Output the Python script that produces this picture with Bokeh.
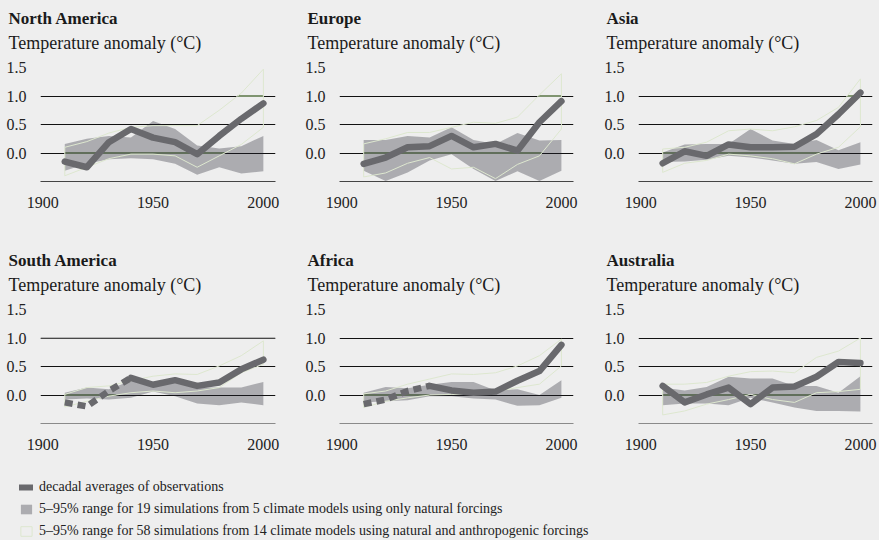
from bokeh.plotting import figure
from bokeh.layouts import column, row
from bokeh.models import (Range1d, FixedTicker, PrintfTickFormatter, Span,
                          Legend, LegendItem, Title)
from bokeh.embed import file_html
from bokeh.resources import INLINE

# Decade centres
years = [1910, 1920, 1930, 1940, 1950, 1960, 1970, 1980, 1990, 2000]

# North America
na_obs = [-0.15, -0.25, 0.19, 0.42, 0.27, 0.19, -0.02, 0.30, 0.60, 0.87]
na_nat_lo = [-0.31, -0.19, -0.11, -0.09, -0.11, -0.19, -0.38, -0.25, -0.36, -0.32]
na_nat_hi = [0.16, 0.25, 0.30, 0.27, 0.56, 0.42, 0.13, 0.08, 0.12, 0.30]
na_ant_lo = [-0.40, -0.25, -0.10, -0.02, -0.02, -0.05, -0.25, -0.05, 0.15, 0.45]
na_ant_hi = [0.10, 0.20, 0.35, 0.45, 0.48, 0.48, 0.48, 0.75, 1.05, 1.47]

# Europe
eu_obs = [-0.19, -0.08, 0.10, 0.12, 0.30, 0.10, 0.16, 0.04, 0.54, 0.91]
eu_nat_lo = [-0.31, -0.49, -0.34, -0.13, -0.02, -0.28, -0.49, -0.32, -0.49, -0.31]
eu_nat_hi = [0.23, 0.23, 0.30, 0.27, 0.45, 0.23, 0.16, 0.35, 0.22, 0.23]
eu_ant_lo = [-0.42, -0.35, -0.18, -0.08, -0.28, -0.25, -0.45, -0.20, -0.05, 0.42]
eu_ant_hi = [0.16, 0.25, 0.36, 0.36, 0.45, 0.54, 0.52, 0.63, 1.02, 1.39]

# Asia
as_obs = [-0.18, 0.03, -0.05, 0.15, 0.10, 0.10, 0.11, 0.33, 0.68, 1.06]
as_nat_lo = [-0.16, -0.15, -0.12, -0.05, -0.08, -0.13, -0.19, -0.16, -0.28, -0.20]
as_nat_hi = [0.01, 0.15, 0.16, 0.16, 0.42, 0.22, 0.16, 0.23, 0.05, 0.19]
as_ant_lo = [-0.34, -0.18, -0.13, -0.02, -0.05, -0.10, -0.19, -0.02, 0.10, 0.46]
as_ant_hi = [0.07, 0.10, 0.19, 0.39, 0.42, 0.39, 0.46, 0.57, 0.80, 1.30]

# South America
sa_obs = [-0.13, -0.20, 0.07, 0.30, 0.18, 0.26, 0.16, 0.22, 0.45, 0.62]
sa_nat_lo = [-0.08, -0.06, -0.08, -0.05, 0.06, -0.02, -0.15, -0.18, -0.13, -0.18]
sa_nat_hi = [0.04, 0.13, 0.10, 0.25, 0.19, 0.25, 0.13, 0.13, 0.13, 0.23]
sa_ant_lo = [-0.21, -0.11, -0.02, 0.04, 0.07, 0.04, 0.07, 0.13, 0.39, 0.54]
sa_ant_hi = [0.01, 0.13, 0.16, 0.25, 0.33, 0.37, 0.36, 0.51, 0.69, 0.95]

# Africa
af_obs = [-0.16, -0.08, 0.07, 0.16, 0.08, 0.04, 0.06, 0.25, 0.42, 0.88]
af_nat_lo = [-0.13, -0.11, -0.09, -0.02, -0.02, -0.06, -0.08, -0.19, -0.18, -0.05]
af_nat_hi = [0.04, 0.14, 0.12, 0.18, 0.23, 0.23, 0.08, 0.10, 0.00, 0.26]
af_ant_lo = [-0.22, -0.11, -0.05, 0.00, 0.01, 0.02, 0.06, 0.13, 0.19, 0.51]
af_ant_hi = [0.02, 0.07, 0.19, 0.28, 0.37, 0.36, 0.39, 0.51, 0.69, 0.98]

# Australia
au_obs = [0.16, -0.13, 0.01, 0.13, -0.16, 0.13, 0.15, 0.32, 0.58, 0.56]
au_nat_lo = [-0.18, -0.15, -0.15, -0.18, -0.05, -0.13, -0.22, -0.28, -0.28, -0.29]
au_nat_hi = [0.13, 0.08, 0.14, 0.32, 0.29, 0.29, 0.16, 0.16, 0.04, 0.33]
au_ant_lo = [-0.35, -0.28, -0.16, -0.08, 0.01, -0.08, -0.13, 0.04, 0.06, 0.10]
au_ant_hi = [0.19, 0.19, 0.22, 0.33, 0.41, 0.42, 0.39, 0.66, 0.77, 1.00]

# Sparse early record drawn dashed up to this decade (None = all solid)
sa_dashed_until = 1940
af_dashed_until = 1940

y_ticks = [0.0, 0.5, 1.0, 1.5]
x_ticks = [1900, 1950, 2000]
tinted_levels = [0.0, 1.0]

legend_labels = [
    "decadal averages of observations",
    "5–95% range for 19 simulations from 5 climate models using only natural forcings",
    "5–95% range for 58 simulations from 14 climate models using natural and anthropogenic forcings",
]

FONT = "Liberation Serif"
BG = "#eeeeee"
OBS_COLOR = "#69696d"
NAT_FILL = "#23232e"
NAT_ALPHA = 0.32
ANT_LINE = "#dde7cf"
ANT_ON_GRID = "#7f9470"


def covered_spans(xs, lo, hi, g):
    """x-intervals where lo <= g <= hi on the piecewise-linear band."""
    spans = []
    for i in range(len(xs) - 1):
        t0, t1 = 0.0, 1.0
        for a, b in ((lo[i] - g, lo[i + 1] - lo[i]),
                     (-(hi[i] - g), -(hi[i + 1] - hi[i]))):
            # need a + b*t <= 0
            if abs(b) < 1e-12:
                if a > 0:
                    t0, t1 = 1.0, 0.0
            else:
                r = -a / b
                if b > 0:
                    t1 = min(t1, r)
                else:
                    t0 = max(t0, r)
        if t1 > t0:
            x0 = xs[i] + t0 * (xs[i + 1] - xs[i])
            x1 = xs[i] + t1 * (xs[i + 1] - xs[i])
            if spans and abs(spans[-1][1] - x0) < 1e-9:
                spans[-1][1] = x1
            else:
                spans.append([x0, x1])
    return spans


def make_panel(name, obs, nat_lo, nat_hi, ant_lo, ant_hi, dashed_until,
               width, left, right, height, bottom, axis_color):
    p = figure(width=width, height=height, title=name,
               x_range=Range1d(1899, 2005.5), y_range=Range1d(-0.5, 1.5),
               output_backend="svg", toolbar_location=None,
               min_border_left=left, min_border_right=right,
               min_border_top=67, min_border_bottom=bottom,
               background_fill_color=BG, border_fill_color=BG,
               outline_line_color=None)

    p.title.text_font = FONT
    p.title.text_font_size = "17px"
    p.title.text_font_style = "bold"
    p.title.text_color = "#1a1a1a"
    p.title.align = "left"
    p.title.offset = -32
    p.title.standoff = 6

    # blank spacer between the frame and the subtitle
    p.add_layout(Title(text=" ", text_font_size="1px", standoff=12), "above")
    sub = Title(text="Temperature anomaly (°C)", text_font=FONT,
                text_font_size="18px", text_font_style="normal",
                text_color="#1a1a1a", align="left", offset=-32, standoff=0)
    p.add_layout(sub, "above")

    # axes
    p.xaxis.ticker = FixedTicker(ticks=x_ticks)
    p.xaxis.major_tick_line_color = None
    p.xaxis.minor_tick_line_color = None
    p.xaxis.axis_line_color = axis_color
    p.xaxis.axis_line_width = 1
    p.xaxis.major_label_standoff = 9
    p.xaxis.major_label_text_font = FONT
    p.xaxis.major_label_text_font_size = "16px"
    p.xaxis.major_label_text_color = "#222222"

    p.yaxis.ticker = FixedTicker(ticks=y_ticks)
    p.yaxis.formatter = PrintfTickFormatter(format="%.1f")
    p.yaxis.major_tick_line_color = None
    p.yaxis.minor_tick_line_color = None
    p.yaxis.axis_line_color = None
    p.yaxis.major_label_standoff = 8
    p.yaxis.major_label_text_font = FONT
    p.yaxis.major_label_text_font_size = "16px"
    p.yaxis.major_label_text_color = "#222222"

    p.xgrid.visible = False
    p.ygrid.grid_line_color = "#111111"
    p.ygrid.grid_line_width = 1

    # 0.0 / 1.0 gridline stretches lying inside the anthropogenic range
    x0s, x1s, ys = [], [], []
    for g in tinted_levels:
        for a, b in covered_spans(years, ant_lo, ant_hi, g):
            x0s.append(a)
            x1s.append(b)
            ys.append(g)
    if x0s:
        p.segment(x0=x0s, y0=ys, x1=x1s, y1=ys, line_color=ANT_ON_GRID,
                  line_width=2)

    # natural-forcing range
    p.varea(x=years, y1=nat_lo, y2=nat_hi, fill_color=NAT_FILL,
            fill_alpha=NAT_ALPHA)

    # natural + anthropogenic range (outline only)
    p.patch(x=years + years[::-1], y=ant_hi + ant_lo[::-1],
            fill_alpha=0, line_color=ANT_LINE, line_width=1)

    # observations
    if dashed_until is None:
        k = 0
    else:
        k = years.index(dashed_until)
        p.line(years[:k + 1], obs[:k + 1], line_color=OBS_COLOR,
               line_width=6.5, line_dash="8 5", line_cap="butt")
    p.line(years[k:], obs[k:], line_color=OBS_COLOR, line_width=6.5,
           line_cap="round", line_join="round")
    return p


col_w = [290, 300, 289]
col_l = [40, 49, 48]
col_r = [15, 17, 7]

top = [
    ("North America", na_obs, na_nat_lo, na_nat_hi, na_ant_lo, na_ant_hi, None),
    ("Europe", eu_obs, eu_nat_lo, eu_nat_hi, eu_ant_lo, eu_ant_hi, None),
    ("Asia", as_obs, as_nat_lo, as_nat_hi, as_ant_lo, as_ant_hi, None),
]
bottom = [
    ("South America", sa_obs, sa_nat_lo, sa_nat_hi, sa_ant_lo, sa_ant_hi, sa_dashed_until),
    ("Africa", af_obs, af_nat_lo, af_nat_hi, af_ant_lo, af_ant_hi, af_dashed_until),
    ("Australia", au_obs, au_nat_lo, au_nat_hi, au_ant_lo, au_ant_hi, None),
]

row1 = [make_panel(*spec, col_w[i], col_l[i], col_r[i], 242, 61, "#444444")
        for i, spec in enumerate(top)]
row2 = [make_panel(*spec, col_w[i], col_l[i], col_r[i], 232, 51, "#8a8a8a")
        for i, spec in enumerate(bottom)]

# faint 1.0 line on the South America panel
row2[0].add_layout(Span(location=1.0, dimension="width", line_color="#808080",
                        line_width=1))

# legend strip; swatch renderers sit outside the visible range
lf = figure(width=879, height=66, output_backend="svg", toolbar_location=None,
            x_range=Range1d(0, 1), y_range=Range1d(0, 1),
            min_border=0, min_border_left=14,
            background_fill_color=BG, border_fill_color=BG,
            outline_line_color=None)
lf.axis.visible = False
lf.grid.visible = False
r_obs = lf.line(x=[5, 6], y=[5, 5], line_color=OBS_COLOR, line_width=6,
                line_cap="round")
r_nat = lf.varea(x=[5, 6], y1=[5, 5], y2=[6, 6], fill_color=NAT_FILL,
                 fill_alpha=NAT_ALPHA)
r_ant = lf.patch(x=[5, 6, 6, 5], y=[5, 5, 6, 6], fill_alpha=0,
                 line_color=ANT_LINE, line_width=1)
legend = Legend(items=[LegendItem(label=legend_labels[0], renderers=[r_obs]),
                       LegendItem(label=legend_labels[1], renderers=[r_nat]),
                       LegendItem(label=legend_labels[2], renderers=[r_ant])],
                location="top_left", margin=5, padding=9,
                glyph_width=14, glyph_height=12, label_standoff=6,
                label_height=16, spacing=6,
                label_text_font=FONT, label_text_font_size="14px",
                label_text_color="#222222",
                background_fill_alpha=0, border_line_color=None)
lf.add_layout(legend)

layout = column(row(*row1), row(*row2), lf, styles={"background-color": BG})

with open("out.html", "w") as f:
    f.write(file_html(layout, INLINE))
